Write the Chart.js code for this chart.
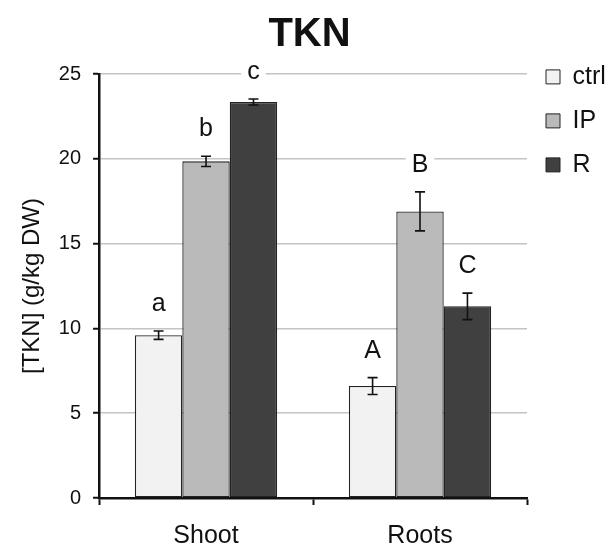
<!DOCTYPE html>
<html>
<head>
<meta charset="utf-8">
<script src="https://cdn.jsdelivr.net/npm/chart.js@4.4.0/dist/chart.umd.min.js"></script>
<style>
  html, body { margin: 0; padding: 0; background: #fff; }
  #wrap { width: 609px; height: 553px; }
</style>
</head>
<body>
<div id="wrap"><canvas id="tknChart" width="609" height="553"></canvas></div>
<script>
// data
const categories = ['Shoot', 'Roots'];
const seriesNames = ['ctrl', 'IP', 'R'];
const ctrlValues = [9.6, 6.6];
const ipValues = [19.85, 16.9];
const rValues = [23.35, 11.3];
const ctrlErr = [0.25, 0.5];
const ipErr = [0.3, 1.15];
const rErr = [0.18, 0.78];
const ctrlLetters = ['a', 'A'];
const ipLetters = ['b', 'B'];
const rLetters = ['c', 'C'];
const yTicks = [0, 5, 10, 15, 20, 25];

const FONT = '"Liberation Sans", Arial, sans-serif';

const errs = [ctrlErr, ipErr, rErr];
const letters = [ctrlLetters, ipLetters, rLetters];

// error bars + significance letters (letters sit on a white box that cuts the grid)
const annotate = {
  id: 'annotate',
  afterDatasetsDraw(chart) {
    const ctx = chart.ctx;
    const y = chart.scales.y;
    ctx.save();
    chart.data.datasets.forEach((ds, i) => {
      const meta = chart.getDatasetMeta(i);
      meta.data.forEach((bar, j) => {
        const v = ds.data[j];
        const e = errs[i][j];
        const yt = y.getPixelForValue(v + e);
        const yb = y.getPixelForValue(v - e);
        ctx.strokeStyle = '#111';
        ctx.lineWidth = 1.6;
        ctx.beginPath();
        ctx.moveTo(bar.x, yt); ctx.lineTo(bar.x, yb);
        ctx.moveTo(bar.x - 5, yt); ctx.lineTo(bar.x + 5, yt);
        ctx.moveTo(bar.x - 5, yb); ctx.lineTo(bar.x + 5, yb);
        ctx.stroke();

        const base = yt - 20;
        ctx.font = '25px ' + FONT;
        ctx.textAlign = 'center';
        ctx.textBaseline = 'alphabetic';
        const w = ctx.measureText(letters[i][j]).width;
        ctx.fillStyle = '#fff';
        ctx.fillRect(bar.x - w / 2 - 6, base - 22, w + 12, 26);
        ctx.fillStyle = '#111';
        ctx.fillText(letters[i][j], bar.x, base);
      });
    });
    ctx.restore();
  }
};

new Chart(document.getElementById('tknChart'), {
  type: 'bar',
  data: {
    labels: categories,
    datasets: [
      { label: seriesNames[0], data: ctrlValues, backgroundColor: '#f2f2f2' },
      { label: seriesNames[1], data: ipValues, backgroundColor: '#bababa' },
      { label: seriesNames[2], data: rValues, backgroundColor: '#404040' }
    ].map(d => Object.assign(d, {
      borderColor: '#222', borderWidth: 1.3, borderSkipped: false,
      categoryPercentage: 0.665, barPercentage: 1
    }))
  },
  options: {
    responsive: false,
    animation: false,
    layout: { padding: { left: 14, right: 4, top: 4, bottom: -14 } },
    plugins: {
      title: {
        display: true, text: 'TKN', color: '#111',
        font: { family: FONT, size: 40, weight: 'bold' },
        padding: { top: 7, bottom: 15 }
      },
      legend: {
        position: 'right', align: 'start', maxWidth: 78,
        title: { display: true, text: '', padding: { top: 13, bottom: 14 } },
        labels: {
          color: '#111', boxWidth: 14, boxHeight: 14, padding: 19,
          font: { family: FONT, size: 25 },
          generateLabels(chart) {
            return chart.data.datasets.map((ds, i) => ({
              text: ds.label, fillStyle: ds.backgroundColor, fontColor: '#111',
              strokeStyle: '#222', lineWidth: 1, datasetIndex: i
            }));
          }
        }
      },
      tooltip: { enabled: false }
    },
    scales: {
      x: {
        grid: { offset: true, drawOnChartArea: false, tickColor: '#111', tickLength: 7, tickWidth: 2 },
        border: { color: '#111', width: 2.5 },
        ticks: { color: '#111', font: { family: FONT, size: 25 }, padding: 16 }
      },
      y: {
        min: 0, max: 25,
        afterBuildTicks(axis) { axis.ticks = yTicks.map(v => ({ value: v })); },
        grid: { color: '#c4c4c4', lineWidth: 1.5, tickColor: '#111', tickLength: 6, tickWidth: 2 },
        border: { color: '#111', width: 2.5 },
        ticks: { color: '#111', font: { family: FONT, size: 20 }, padding: 12 },
        title: {
          display: true, text: '[TKN] (g/kg DW)', color: '#111',
          font: { family: FONT, size: 24 }, padding: { bottom: 0 }
        }
      }
    }
  },
  plugins: [annotate]
});
</script>
</body>
</html>
